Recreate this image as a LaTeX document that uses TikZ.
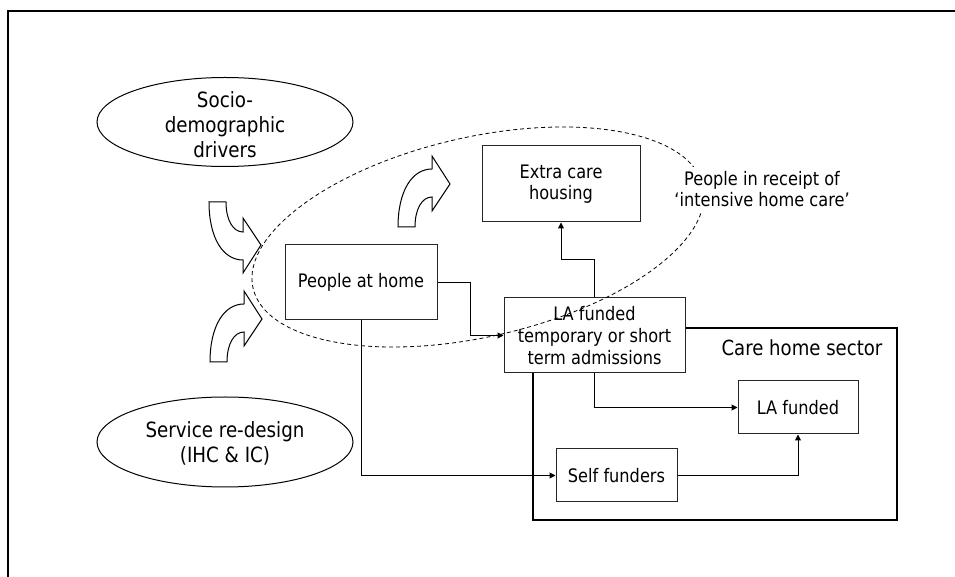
\documentclass[tikz,border=0pt]{standalone}
\usepackage{fontspec}
\setmainfont{DejaVu Sans}[FakeStretch=0.87]
\usetikzlibrary{arrows.meta}

\begin{document}
\begin{tikzpicture}[x=0.5pt, y=-0.5pt,
		box/.style={draw=black!85, line width=0.5pt, fill=white, align=center, inner sep=0pt, font=\fontsize{9.3}{10.8}\selectfont},
		driver/.style={align=center, font=\fontsize{10.5}{12.5}\selectfont},
		link/.style={line width=0.5pt, -{Triangle[length=3pt,width=3pt]}},
		bendarrow/.pic={\draw[line width=0.5pt, fill=white] (0,0) -- (17,0) .. controls (17,18) and (24,30) .. (34,30) -- (34,16) -- (52,43) -- (34,71) -- (34,58) .. controls (14,58) and (0,36) .. (0,0) -- cycle;}]
		
		\useasboundingbox (0,0) rectangle (955,577);
		
		% Marco exterior (solo lados superior e izquierdo)
		\draw[line width=1pt] (8,577) -- (8,11) -- (955,11);
		
		% Elipses de la izquierda
		\draw[line width=0.5pt] (225,122) ellipse [x radius=128, y radius=44.5];
		\node[driver] (socio) at (225,125) {Socio-\\demographic\\drivers};
		\draw[line width=0.5pt] (225,442) ellipse [x radius=128, y radius=45];
		\node[driver] (redesign) at (225,443) {Service re-design\\(IHC \& IC)};
		
		% Flechas curvas
		\pic at (209,202) {bendarrow};
		\pic[yscale=-1] at (210,362) {bendarrow};
		\pic[yscale=-1] at (398,227) {bendarrow};
		
		% Sector de residencias
		\draw[line width=1pt] (533,328) rectangle (897,520);
		\node[font=\fontsize{10.4}{12}\selectfont] (sector) at (802,348) {Care home sector};
		
		% Cajas
		\node[box, minimum width=76pt, minimum height=37.5pt] (home) at (361,282.5) {People at home};
		\node[box, minimum width=79pt, minimum height=38pt] (extra) at (561,184) {Extra care\\housing};
		\node[box, minimum width=90.5pt, minimum height=37.5pt] (latemp) at (594.5,335.5) {LA funded\\temporary or short\\term admissions};
		\node[box, minimum width=60pt, minimum height=26.5pt] (lafund) at (798,407.5) {LA funded};
		\node[box, minimum width=60.5pt, minimum height=26.5pt] (self) at (616.5,475.5) {Self funders};
		
		% Conexiones
		\draw[link] (home.east) -- ++(33,0) |- (latemp.west);
		\draw[link] (latemp.north) -- ++(0,-38) -| (extra.south);
		\draw[link] (latemp.south) |- (lafund.west);
		\draw[link] (home.south) |- (self.west);
		\draw[link] (self.east) -| (lafund.south);
		
		% Elipse punteada de cuidados intensivos
		\draw[dash pattern=on 2pt off 1.5pt, line width=0.4pt, rotate around={12.8:(478,237)}] (478,237) ellipse [x radius=230.7, y radius=99.9];
		\node[fill=white, inner sep=2pt, align=center, font=\fontsize{9.3}{10.8}\selectfont] (ihc) at (762,189) {People in receipt of\\`intensive home care'};
		
	\end{tikzpicture}
\end{document}
